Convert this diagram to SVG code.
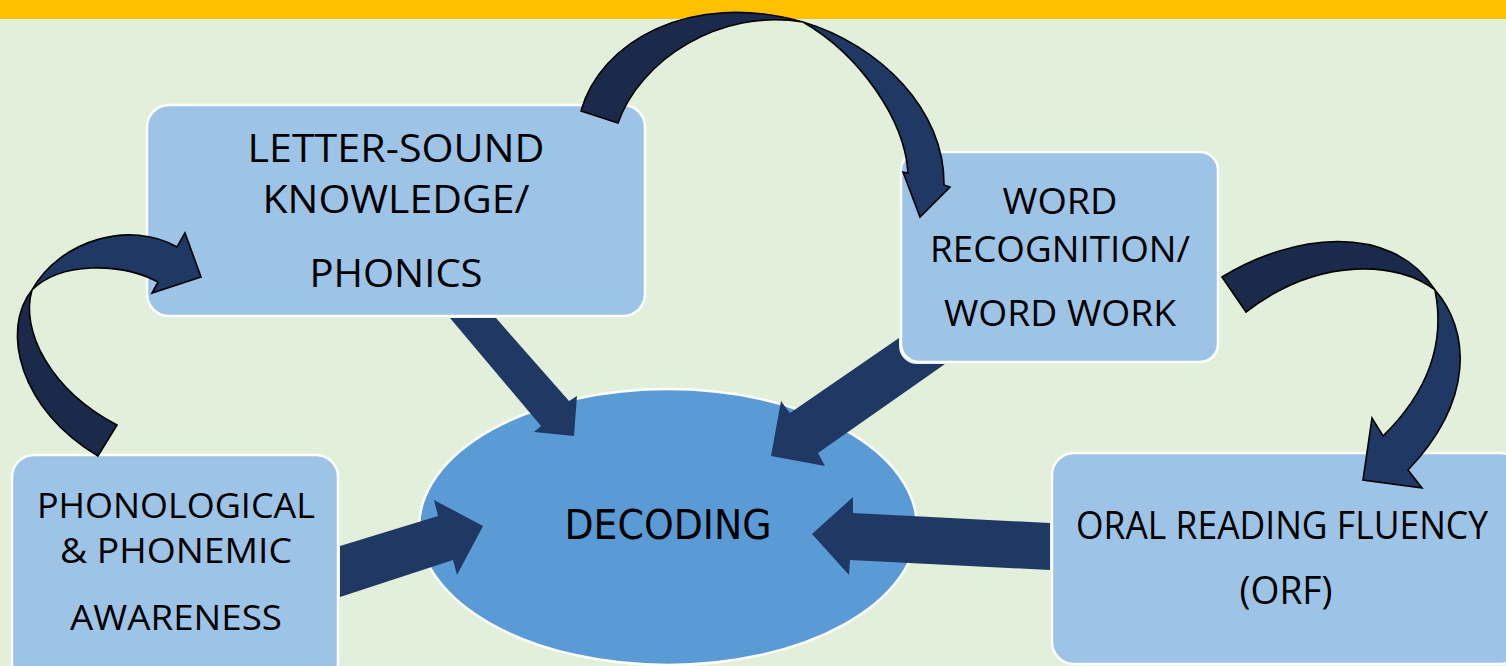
<svg xmlns="http://www.w3.org/2000/svg" width="1506" height="666" viewBox="0 0 1506 666">
  <style>
    .box { fill: #9DC3E6; stroke: #FFFFFF; stroke-width: 2.5; }
    .hub { fill: #5B9BD5; stroke: #FFFFFF; stroke-width: 2.5; }
    .label { font-family: "Open Sans", "Noto Sans", "Liberation Sans", sans-serif; fill: #000000; text-anchor: middle; }
    .hub-label { font-family: "DejaVu Sans Condensed", "DejaVu Sans", sans-serif; font-stretch: condensed; fill: #000000; text-anchor: middle; }
    .straight { fill: #1F3864; stroke: none; }
    .bend-back { fill: #1B2A4B; stroke: #000000; stroke-width: 1.6; stroke-linejoin: miter; }
    .bend-front { fill: #1F3864; stroke: #000000; stroke-width: 1.6; stroke-linejoin: miter; }
  </style>

  <!-- page background and top band -->
  <rect x="0" y="0" width="1506" height="666" fill="#E2EFDA"/>
  <rect x="0" y="0" width="1506" height="19" fill="#FFC000"/>

  <!-- central hub -->
  <g id="node-decoding">
    <ellipse class="hub" cx="668" cy="527" rx="249" ry="138"/>
    <text class="hub-label" x="668" y="539" font-size="41" textLength="207" lengthAdjust="spacingAndGlyphs">DECODING</text>
  </g>

  <g id="node-letter-sound">
    <rect class="box" x="147" y="105" width="498" height="211" rx="22" ry="22"/>
    <text class="label" x="396" y="162" font-size="39" textLength="297" lengthAdjust="spacingAndGlyphs">LETTER-SOUND</text>
    <text class="label" x="396" y="213" font-size="39" textLength="267" lengthAdjust="spacingAndGlyphs">KNOWLEDGE/</text>
    <text class="label" x="396" y="287" font-size="39" textLength="173" lengthAdjust="spacingAndGlyphs">PHONICS</text>
  </g>

  <g id="node-word-recognition">
    <rect class="box" x="901" y="152" width="317" height="210" rx="18" ry="18"/>
    <text class="label" x="1060" y="214" font-size="36" textLength="115" lengthAdjust="spacingAndGlyphs">WORD</text>
    <text class="label" x="1060" y="262" font-size="36" textLength="260" lengthAdjust="spacingAndGlyphs">RECOGNITION/</text>
    <text class="label" x="1060" y="326" font-size="36" textLength="232" lengthAdjust="spacingAndGlyphs">WORD WORK</text>
  </g>

  <g id="node-phonological">
    <rect class="box" x="12" y="455" width="326" height="230" rx="22" ry="22"/>
    <text class="label" x="176" y="518" font-size="34" textLength="278" lengthAdjust="spacingAndGlyphs">PHONOLOGICAL</text>
    <text class="label" x="176" y="563" font-size="34" textLength="232" lengthAdjust="spacingAndGlyphs">&amp; PHONEMIC</text>
    <text class="label" x="176" y="630" font-size="34" textLength="212" lengthAdjust="spacingAndGlyphs">AWARENESS</text>
  </g>

  <g id="node-orf">
    <rect class="box" x="1052" y="453" width="470" height="211" rx="22" ry="22"/>
    <text class="label" x="1282" y="539" font-size="38" textLength="412" lengthAdjust="spacingAndGlyphs">ORAL READING FLUENCY</text>
    <text class="label" x="1286" y="604" font-size="38" textLength="93" lengthAdjust="spacingAndGlyphs">(ORF)</text>
  </g>

  <g id="connectors">
    <!-- block arrows into the hub -->
    <polygon class="straight" points="450,318 496,318 569,401 577,396 574,436 534,432 541,426"/>
    <path class="straight" d="M899,338 L899,346 A18,18 0 0 0 917,364 L945,364 L818,453 L825,466 L771,456 L781,401 L790,413 Z"/>
    <polygon class="straight" points="340,546 438,516 434,500 483,526 457,575 453,560 340,597"/>
    <polygon class="straight" points="812,534 853,497 853,513 1050,523 1050,570 850,560 849,575"/>

    <!-- curved arrow: phonological -> letter-sound -->
    <path class="bend-back" d="M98,456 C20,410 0,330 32,290 C20,330 50,390 117,425 Z"/>
    <path class="bend-front" d="M32,290 C60,240 130,220 177,247 L185,233 L201,277 L152,293 L158,282 C120,262 60,262 32,290 Z"/>

    <!-- curved arrow: letter-sound -> word recognition -->
    <path class="bend-back" d="M581,111 C600,42 690,-10 803,22 C720,8 640,60 618,123 Z"/>
    <path class="bend-front" d="M803,22 C880,45 945,110 944,185 L950,187 L920,217 L903,172 L908,173 C905,120 860,55 803,22 Z"/>

    <!-- curved arrow: word recognition -> oral reading fluency -->
    <path class="bend-back" d="M1222,277 C1290,235 1390,220 1435,290 C1400,262 1320,255 1246,312 Z"/>
    <path class="bend-front" d="M1435,290 C1470,330 1475,400 1408,470 L1422,488 L1363,480 L1372,418 L1383,436 C1430,390 1445,340 1435,290 Z"/>
  </g>
</svg>
